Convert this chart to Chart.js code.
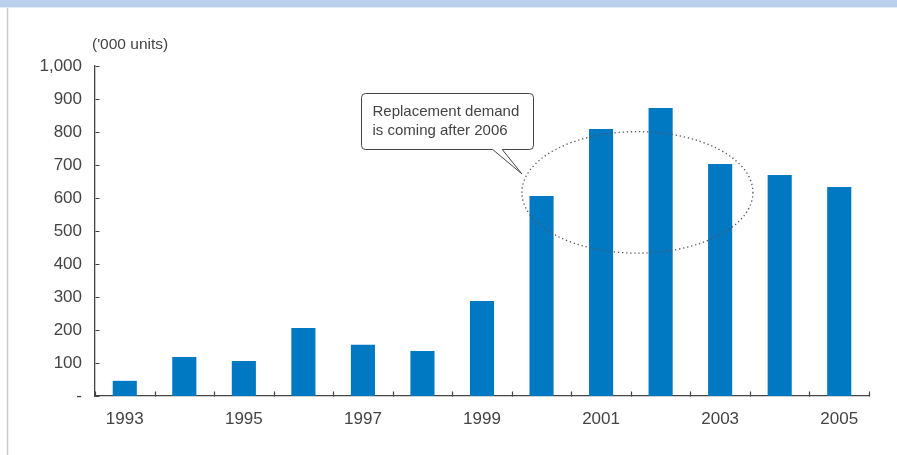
<!DOCTYPE html>
<html>
<head>
<meta charset="utf-8">
<script src="https://cdn.jsdelivr.net/npm/chart.js@4.4.1/dist/chart.umd.min.js"></script>
<style>
  html, body { margin: 0; padding: 0; background: #fff; overflow: hidden; }
  canvas { display: block; }
</style>
</head>
<body>
<canvas id="c" width="897" height="455"></canvas>
<script>
// Annual unit sales, thousands
const years = ['1993', '1994', '1995', '1996', '1997', '1998', '1999',
               '2000', '2001', '2002', '2003', '2004', '2005'];
const units = [46, 118, 106, 206, 155, 136, 288, 606, 809, 873, 703, 670, 633];
const yTickValues = [0, 100, 200, 300, 400, 500, 600, 700, 800, 900, 1000];
const unitLabel = "('000 units)";
const calloutLines = ['Replacement demand', 'is coming after 2006'];

// Annotation geometry in axis units (category index, value)
const ring = { from: 6.67, to: 10.55, low: 433, high: 801 };
const bubble = { from: 3.97, to: 6.86, low: 748, high: 918, tipAt: 6.67, tipValue: 673, baseFrom: 6.18, baseTo: 6.34 };

const FONT = '"Liberation Sans", Arial, Helvetica, sans-serif';
const INK = '#444';

const decorations = {
  id: 'decorations',
  beforeDraw(chart) {
    const ctx = chart.ctx;
    ctx.save();
    // page header band
    ctx.fillStyle = '#bad0ec';
    ctx.fillRect(0, 0, chart.width, 7);
    ctx.fillStyle = '#e3ecf8';
    ctx.fillRect(0, 7, chart.width, 1);
    // left frame rule
    ctx.strokeStyle = '#c9c9c9';
    ctx.lineWidth = 1.5;
    ctx.beginPath();
    ctx.moveTo(7.5, 8);
    ctx.lineTo(7.5, chart.height);
    ctx.stroke();
    ctx.restore();
  },
  afterDraw(chart) {
    const ctx = chart.ctx;
    const x = chart.scales.x, y = chart.scales.y;
    const axisX = Math.round(x.left) + 0.5;
    const axisY = Math.round(y.getPixelForValue(0)) + 0.5;
    ctx.save();

    // inward tick marks
    ctx.strokeStyle = INK;
    ctx.lineWidth = 1.2;
    ctx.beginPath();
    yTickValues.forEach(v => {
      const py = Math.round(y.getPixelForValue(v)) + 0.5;
      ctx.moveTo(axisX, py);
      ctx.lineTo(axisX + 4, py);
    });
    for (let i = 0; i <= years.length; i++) {
      const px = Math.round(x.getPixelForValue(i - 0.5)) + 0.5;
      ctx.moveTo(px, axisY);
      ctx.lineTo(px, axisY - 5);
    }
    ctx.stroke();

    // unit caption
    ctx.fillStyle = INK;
    ctx.font = '15.5px ' + FONT;
    ctx.textAlign = 'left';
    ctx.textBaseline = 'middle';
    ctx.fillText(unitLabel, x.left - 3, y.getPixelForValue(1000) - 21);

    // dotted ring around the peak years
    const l = x.getPixelForValue(ring.from), r = x.getPixelForValue(ring.to);
    const t = y.getPixelForValue(ring.high), b = y.getPixelForValue(ring.low);
    ctx.strokeStyle = '#555';
    ctx.lineWidth = 1.3;
    ctx.setLineDash([1.3, 2.8]);
    ctx.beginPath();
    ctx.ellipse((l + r) / 2, (t + b) / 2, (r - l) / 2, (b - t) / 2, 0, 0, Math.PI * 2);
    ctx.stroke();
    ctx.setLineDash([]);

    // speech bubble
    const bl = Math.round(x.getPixelForValue(bubble.from)) + 0.5;
    const br = Math.round(x.getPixelForValue(bubble.to)) + 0.5;
    const bt = Math.round(y.getPixelForValue(bubble.high)) + 0.5;
    const bb = Math.round(y.getPixelForValue(bubble.low)) + 0.5;
    const tx = x.getPixelForValue(bubble.tipAt), ty = y.getPixelForValue(bubble.tipValue);
    const b1 = x.getPixelForValue(bubble.baseFrom), b2 = x.getPixelForValue(bubble.baseTo);
    const rad = 4;
    ctx.beginPath();
    ctx.moveTo(bl + rad, bt);
    ctx.lineTo(br - rad, bt);
    ctx.arcTo(br, bt, br, bt + rad, rad);
    ctx.lineTo(br, bb - rad);
    ctx.arcTo(br, bb, br - rad, bb, rad);
    ctx.lineTo(b2, bb);
    ctx.lineTo(tx, ty);
    ctx.lineTo(b1, bb);
    ctx.lineTo(bl + rad, bb);
    ctx.arcTo(bl, bb, bl, bb - rad, rad);
    ctx.lineTo(bl, bt + rad);
    ctx.arcTo(bl, bt, bl + rad, bt, rad);
    ctx.closePath();
    ctx.fillStyle = '#fff';
    ctx.fill();
    ctx.strokeStyle = INK;
    ctx.lineWidth = 1;
    ctx.stroke();

    ctx.fillStyle = INK;
    ctx.font = '15px ' + FONT;
    ctx.textAlign = 'left';
    ctx.textBaseline = 'middle';
    calloutLines.forEach((line, i) => {
      ctx.fillText(line, bl + 11, bt + 18.5 + i * 19);
    });
    ctx.restore();
  }
};

new Chart(document.getElementById('c'), {
  type: 'bar',
  data: {
    labels: years,
    datasets: [{
      data: units,
      backgroundColor: '#0179c2',
      borderWidth: 0,
      categoryPercentage: 1,
      barPercentage: 0.405
    }]
  },
  options: {
    responsive: false,
    animation: false,
    devicePixelRatio: 1,
    layout: { padding: { top: 66, right: 28, bottom: 0, left: 0 } },
    plugins: { legend: { display: false }, tooltip: { enabled: false } },
    scales: {
      x: {
        grid: { display: false, drawTicks: false },
        border: { display: true, color: INK, width: 1.3 },
        ticks: {
          autoSkip: false,
          maxRotation: 0,
          padding: 13,
          color: INK,
          font: { family: FONT, size: 17 },
          callback: (v, i) => (i % 2 === 0 ? years[i] : '')
        },
        afterFit: s => { s.height = 59; }
      },
      y: {
        min: 0,
        max: 1000,
        afterBuildTicks: s => { s.ticks = yTickValues.map(v => ({ value: v })); },
        grid: { display: false, drawTicks: false },
        border: { display: true, color: INK, width: 1.3 },
        ticks: {
          padding: 13,
          color: INK,
          font: { family: FONT, size: 17 },
          callback: v => (v === 0 ? '-' : v.toLocaleString('en-US'))
        },
        afterFit: s => { s.width = 95; }
      }
    }
  },
  plugins: [decorations]
});
</script>
</body>
</html>
